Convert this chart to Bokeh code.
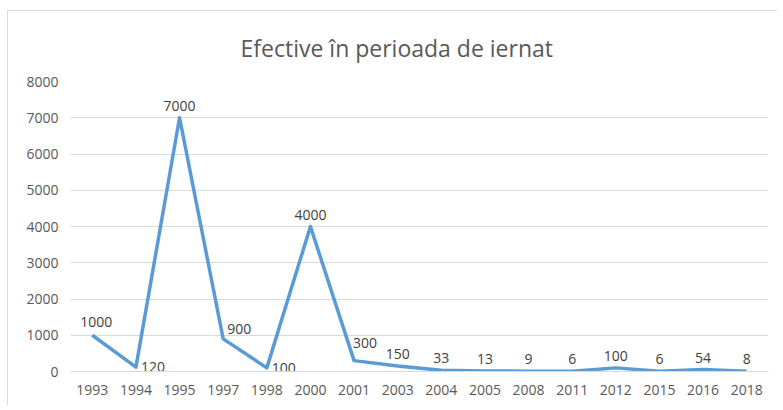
from bokeh.plotting import figure
from bokeh.models import ColumnDataSource, FactorRange, Range1d, SingleIntervalTicker, NumeralTickFormatter
from bokeh.core.properties import value
from bokeh.embed import file_html
from bokeh.resources import INLINE

# ---- data ----
years = ["1993", "1994", "1995", "1997", "1998", "2000", "2001", "2003",
         "2004", "2005", "2008", "2011", "2012", "2015", "2016", "2018"]
values = [1000, 120, 7000, 900, 100, 4000, 300, 150, 33, 13, 9, 6, 100, 6, 54, 8]
title_text = "Efective în perioada de iernat"

# ---- label placement (style) ----
placement = ["above-r", "right", "above", "right-up", "right", "above", "right-up2", "above",
             "above", "above", "above", "above", "above", "above", "above", "above"]
place_map = {
    "above": (0, -12, "center"),
    "above-r": (4, -13, "center"),
    "right": (5, 0, "left"),
    "right-up": (4, -10, "left"),
    "right-up2": (-1, -18, "left"),
}
dx = [place_map[k][0] for k in placement]
dy = [place_map[k][1] for k in placement]
align = [place_map[k][2] for k in placement]

src = ColumnDataSource(dict(x=years, y=values, t=[str(v) for v in values],
                            dx=dx, dy=dy, al=align))

FONT = "Open Sans"
p = figure(width=770, height=395, x_range=FactorRange(*years, range_padding=0),
           y_range=Range1d(0, 8000), output_backend="svg", toolbar_location=None,
           min_border_left=62, min_border_right=10, min_border_top=70, min_border_bottom=35,
           margin=(10, 0, 0, 7),
           styles={"border-top": "1px solid #D9D9D9", "border-left": "1px solid #D9D9D9"})

p.title.text = title_text
p.title.align = "left"
p.title.offset = 170
p.title.vertical_align = "bottom"
p.title.standoff = 36
p.title.text_font = FONT
p.title.text_font_size = "23px"
p.title.text_font_style = "normal"
p.title.text_color = "#595959"

p.outline_line_color = None
p.background_fill_color = "white"
p.border_fill_color = "white"

p.line("x", "y", source=src, line_color="#5B9BD5", line_width=3.5, line_join="round")
p.text("x", "y", text="t", source=src, x_offset="dx", y_offset="dy", text_align="al",
       text_baseline="middle", text_font=value(FONT), text_font_size="14px", text_color="#404040")

p.yaxis.ticker = SingleIntervalTicker(interval=1000)
p.yaxis.formatter = NumeralTickFormatter(format="0")
for ax in (p.xaxis, p.yaxis):
    ax.axis_line_color = None
    ax.major_tick_line_color = None
    ax.minor_tick_line_color = None
    ax.major_label_text_font = FONT
    ax.major_label_text_font_size = "14px"
    ax.major_label_text_color = "#595959"
p.xaxis.axis_line_color = "#D9D9D9"
p.xaxis.major_label_standoff = 7
p.yaxis.major_label_standoff = 6

p.xgrid.grid_line_color = None
p.ygrid.grid_line_color = "#D9D9D9"
p.ygrid.grid_line_width = 1

open("out.html", "w").write(file_html(p, INLINE))
